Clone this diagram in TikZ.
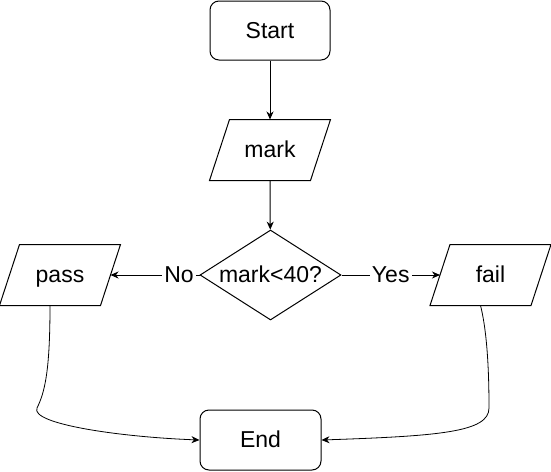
\documentclass[tikz,border=0pt]{standalone}
\usepackage{fontspec}
\setmainfont{Liberation Sans}
\usetikzlibrary{shapes.geometric,arrows.meta,calc}
\begin{document}
\begin{tikzpicture}[x=1pt,y=-1pt,line width=1pt,
  every node/.style={font=\fontsize{23}{27}\selectfont,text height=19pt,text depth=3.4pt},
  term/.style={draw,rectangle,rounded corners=9pt,minimum width=120pt,minimum height=59pt,inner sep=0pt},
  io/.style={rectangle,minimum width=120pt,minimum height=60pt,inner sep=0pt},
  ioframe/.style={draw},
  decision/.style={draw,diamond,aspect=1.567,inner sep=0pt,minimum width=141pt,minimum height=90pt},
  lbl/.style={fill=white,inner sep=2pt},
  arr/.style={-{Stealth[length=8pt,width=7pt,inset=2.5pt]}}]
\useasboundingbox (0,0) rectangle (551,471);
\node[term] (start) at (270,30.5) {Start};
\node[io] (mark) at (270,150) {mark};
\node[decision] (dec) at (270.5,275) {mark<40?};
\node[io] (pass) at (60,275) {pass};
\node[io] (fail) at (490.5,275) {fail};
\node[term,minimum width=121pt,minimum height=60pt] (end) at (260.5,440) {End};
\foreach \n in {mark,pass,fail}{
  \draw[ioframe] ($(\n.north west)+(20,0)$) -- (\n.north east)
      -- ($(\n.south east)+(-20,0)$) -- (\n.south west) -- cycle;
}
\coordinate (pb) at ($(pass.south)+(-10,0)$);
\coordinate (fb) at ($(fail.south)+(-10,0)$);
\coordinate (pe) at ($(pass.east)+(-10,0)$);
\coordinate (fw) at ($(fail.west)+(10,0)$);
\coordinate (mt) at ($(mark.north)$);
\draw[arr] (start) -- (mt);
\draw[arr] (mark.south) -- (dec);
\draw[arr] (dec.west) -- node[lbl,pos=0.23] (no) {No} (pe);
\draw[arr] (dec.east) -- node[lbl,pos=0.5] (yes) {Yes} (fw);
\draw[arr,line width=0.8pt] (pb) .. controls (50,370) and (45,392) .. (37,408)
   .. controls (30,424) and (120,437) .. (end.west);
\draw[arr,line width=0.8pt] (fb) .. controls (488,335) and (489,380) .. (489,408)
   .. controls (489,432) and (440,436) .. (end.east);
\end{tikzpicture}
\end{document}
